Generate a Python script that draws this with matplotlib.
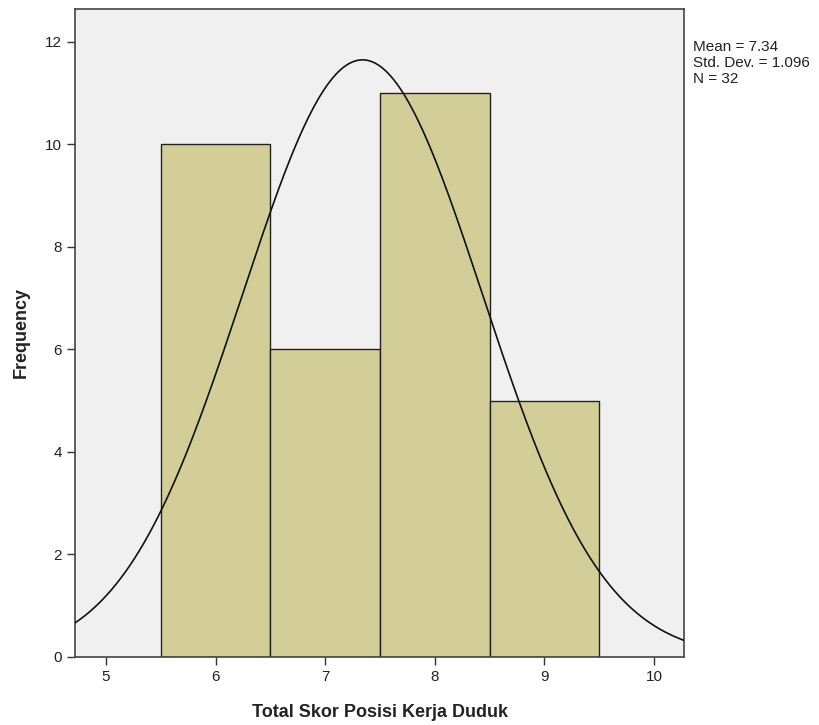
import numpy as np
import matplotlib
matplotlib.use("Agg")
import matplotlib.pyplot as plt

plt.rcParams["font.family"] = ["Liberation Sans", "DejaVu Sans"]

# histogram data (bin centers and counts)
bin_centers = [6, 7, 8, 9]
counts = [10, 6, 11, 5]
mean_val = 7.34
std_val = 1.096
n_val = 32
bin_width = 1.0

fig = plt.figure(figsize=(8.2, 7.25), dpi=100)
ax = fig.add_axes([0.0915, 0.0938, 0.7427, 0.8938])
ax.set_facecolor("#f0f0f0")

ax.bar(bin_centers, counts, width=bin_width, color="#d3ce98",
       edgecolor="#222222", linewidth=1.0, zorder=2)

# normal curve scaled to counts
xs = np.linspace(4.717, 10.274, 400)
ys = n_val * bin_width / (std_val * np.sqrt(2 * np.pi)) * np.exp(-0.5 * ((xs - mean_val) / std_val) ** 2)
ax.plot(xs, ys, color="#111111", linewidth=1.2, zorder=3)

ax.set_xlim(4.717, 10.274)
ax.set_ylim(0, 12.64)
ax.set_xticks([5, 6, 7, 8, 9, 10])
ax.set_yticks([0, 2, 4, 6, 8, 10, 12])
ax.tick_params(direction="out", length=6, width=1, colors="#333333",
               labelsize=11, labelcolor="#222222", top=False, right=False)
for s in ax.spines.values():
    s.set_color("#444444")
    s.set_linewidth(1.2)

ax.set_xlabel("Total Skor Posisi Kerja Duduk", fontsize=13, fontweight="bold",
              color="#222222", labelpad=14)
ax.set_ylabel("Frequency", fontsize=13, fontweight="bold", color="#222222", labelpad=11)

fig.text(693 / 820, 1 - 40 / 725,
         "Mean = %.2f\nStd. Dev. = %.3f\nN = %d" % (mean_val, std_val, n_val),
         fontsize=11, color="#222222", va="top", ha="left", linespacing=1.2)

fig.savefig("out.png", dpi=100)
